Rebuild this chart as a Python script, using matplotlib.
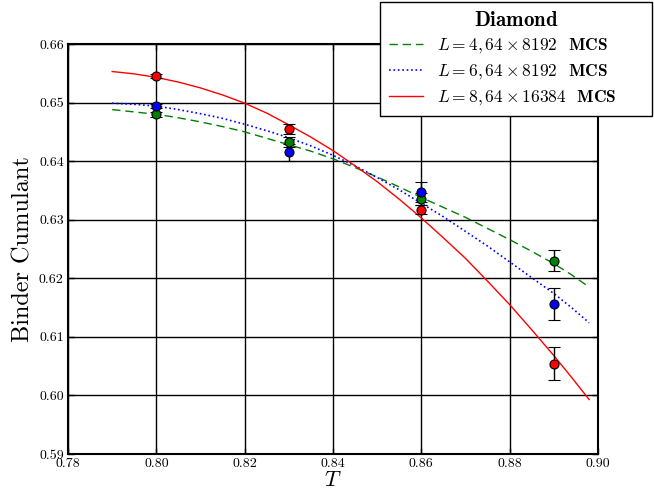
import numpy as np
import matplotlib
matplotlib.use('Agg')
import matplotlib.pyplot as plt

plt.rcParams['font.family'] = 'serif'
plt.rcParams['font.serif'] = ['cmr10']
plt.rcParams['mathtext.fontset'] = 'cm'
plt.rcParams['axes.formatter.use_mathtext'] = True

# simulation points (T, Binder cumulant, error)
T_pts = [0.80, 0.83, 0.86, 0.89]
U4 = [0.6480, 0.6433, 0.6335, 0.6230]
U4_err = [0.0004, 0.0008, 0.0010, 0.0018]
U6 = [0.6494, 0.6415, 0.6348, 0.6156]
U6_err = [0.0004, 0.0015, 0.0017, 0.0027]
U8 = [0.6545, 0.6455, 0.6317, 0.6054]
U8_err = [0.0003, 0.0009, 0.0008, 0.0028]

# fitted curves
T_fit = [0.79, 0.795, 0.80, 0.805, 0.81, 0.815, 0.82, 0.825, 0.83, 0.835, 0.84, 0.845,
         0.85, 0.855, 0.86, 0.865, 0.87, 0.875, 0.88, 0.885, 0.89, 0.894, 0.898]
fit4 = [0.6488, 0.6484, 0.6480, 0.6474, 0.6467, 0.6459, 0.6450, 0.6439, 0.6428, 0.6417,
        0.6404, 0.6389, 0.6373, 0.6356, 0.6338, 0.6321, 0.6304, 0.6285, 0.6266, 0.6246,
        0.6225, 0.6206, 0.6185]
fit6 = [0.6499, 0.6497, 0.6494, 0.6488, 0.6481, 0.6473, 0.6463, 0.6452, 0.6440, 0.6426,
        0.6410, 0.6392, 0.6372, 0.6351, 0.6328, 0.6305, 0.6280, 0.6255, 0.6228, 0.6201,
        0.6174, 0.6150, 0.6124]
fit8 = [0.6553, 0.6549, 0.6543, 0.6535, 0.6525, 0.6513, 0.6499, 0.6482, 0.6462, 0.6441,
        0.6418, 0.6392, 0.6365, 0.6335, 0.6303, 0.6269, 0.6234, 0.6195, 0.6155, 0.6112,
        0.6068, 0.6031, 0.5993]

fig = plt.figure(figsize=(6.54, 4.95), dpi=100)
ax = fig.add_axes([68 / 654, 41 / 495, 530 / 654, 410 / 495])

ax.grid(True, color='black', linewidth=1.0, zorder=0)
ax.set_axisbelow(True)

ax.plot(T_fit, fit4, color='green', linewidth=1.0, dashes=(6, 3.5),
        label=r'$L=4,64\times8192$  $\mathbf{MCS}$')
ax.plot(T_fit, fit6, ':', color='blue', linewidth=1.2,
        label=r'$L=6,64\times8192$  $\mathbf{MCS}$')
ax.plot(T_fit, fit8, '-', color='red', linewidth=1.0,
        label=r'$L=8,64\times16384$  $\mathbf{MCS}$')

for y, e, c in [(U4, U4_err, 'green'), (U6, U6_err, 'blue'), (U8, U8_err, 'red')]:
    ax.errorbar(T_pts, y, yerr=e, fmt='o', color='black', ecolor='black', elinewidth=1.0,
                capsize=4, capthick=1.0, markerfacecolor=c, markeredgecolor='black',
                markersize=6.5, markeredgewidth=0.8, zorder=5)

ax.set_xlim(0.78, 0.90)
ax.set_ylim(0.59, 0.66)
ax.set_xticks(np.arange(0.78, 0.9001, 0.02))
ax.set_yticks(np.arange(0.59, 0.6601, 0.01))
ax.set_xticklabels(['%.2f' % v for v in np.arange(0.78, 0.9001, 0.02)])
ax.set_yticklabels(['%.2f' % v for v in np.arange(0.59, 0.6601, 0.01)])
ax.tick_params(direction='in', length=4, width=1, labelsize=10, top=True, right=True, pad=3)
for s in ax.spines.values():
    s.set_linewidth(1.5)

ax.set_xlabel(r'$T$', fontsize=16, labelpad=0)
ax.set_ylabel('Binder Cumulant', fontsize=17.5, labelpad=3)

leg = ax.legend(loc='upper left', bbox_to_anchor=(380 / 654, 379 / 495, 272 / 654, 114 / 495),
                bbox_transform=fig.transFigure, mode='expand', borderaxespad=0,
                fancybox=False, edgecolor='black', framealpha=1, fontsize=12.5,
                title=r'$\mathbf{Diamond}$', title_fontsize=15,
                handlelength=2.0, handletextpad=0.8, borderpad=0.5, labelspacing=0.4)
leg.get_frame().set_linewidth(1.0)

fig.savefig('out.png', dpi=100)
